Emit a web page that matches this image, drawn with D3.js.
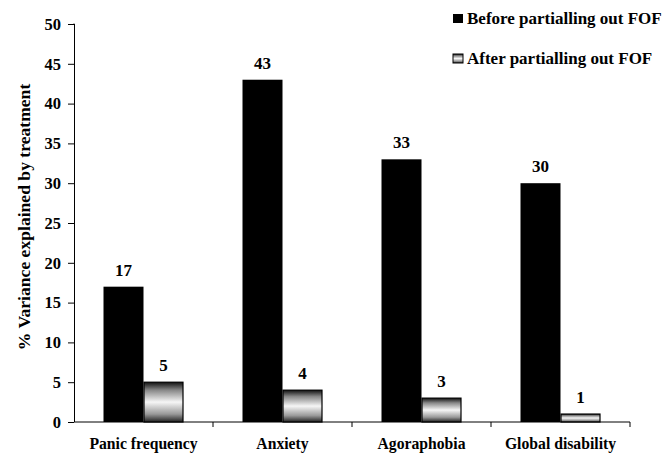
<!DOCTYPE html>
<html><head><meta charset="utf-8">
<script src="https://cdn.jsdelivr.net/npm/d3@7"></script>
<style>body{margin:0;background:#fff}svg{display:block}</style>
</head><body>
<script>
const categories = ["Panic frequency","Anxiety","Agoraphobia","Global disability"];
const beforeValues = [17,43,33,30];
const afterValues = [5,4,3,1];
const seriesNames = ["Before partialling out FOF","After partialling out FOF"];
const yTicks = [0,5,10,15,20,25,30,35,40,45,50];

const FONT="'Liberation Serif', 'Times New Roman', Times, serif";
const W=666,H=458;
const m={left:74,right:36,top:24,bottom:36};
const svg=d3.select("body").append("svg").attr("width",W).attr("height",H)
 .attr("font-family",FONT).attr("font-weight","bold");
const defs=svg.append("defs");
const g=defs.append("linearGradient").attr("id","hatch").attr("x1",0).attr("y1",0).attr("x2",0).attr("y2",1);
[[0,"#111"],[0.2,"#888"],[0.5,"#f6f6f6"],[0.8,"#999"],[1,"#222"]].forEach(([o,c])=>g.append("stop").attr("offset",o).attr("stop-color",c));

const x=d3.scaleBand().domain(categories).range([m.left,W-m.right]);
const y=d3.scaleLinear().domain([0,50]).range([H-m.bottom,m.top]);
const bw=40;

// y axis
const ya=svg.append("g").attr("transform",`translate(${m.left},0)`)
 .call(d3.axisLeft(y).tickValues(yTicks).tickSize(6).tickPadding(7));
ya.attr("font-family",FONT).attr("font-size",16.5).attr("font-weight","bold");
ya.selectAll("text").attr("fill","#000");
ya.select(".domain").attr("d",`M-0.5,${y(50)}H0.5V${y(0)}`).attr("stroke","#000");

// x axis
const xa=svg.append("g").attr("transform",`translate(0,${y(0)})`)
 .call(d3.axisBottom(x).tickSize(0).tickPadding(16));
xa.attr("font-family",FONT).attr("font-size",15.7).attr("font-weight","bold");
xa.selectAll("text").attr("fill","#000");
xa.select(".domain").attr("d",`M${m.left},0H${W-m.right}`).attr("stroke","#000");
// separators
svg.append("g").selectAll("line").data(categories).join("line")
 .attr("x1",c=>x(c)+x.bandwidth()).attr("x2",c=>x(c)+x.bandwidth())
 .attr("y1",y(0)).attr("y2",y(0)+5).attr("stroke","#000");

const cx=c=>x(c)+x.bandwidth()/2;
svg.append("g").selectAll("rect").data(categories).join("rect")
 .attr("x",c=>cx(c)-bw).attr("width",bw)
 .attr("y",(c,i)=>y(beforeValues[i])).attr("height",(c,i)=>y(0)-y(beforeValues[i]))
 .attr("fill","#000");
svg.append("g").selectAll("rect").data(categories).join("rect")
 .attr("x",c=>cx(c)+0.5).attr("width",bw-1)
 .attr("y",(c,i)=>y(afterValues[i])).attr("height",(c,i)=>y(0)-y(afterValues[i]))
 .attr("fill","url(#hatch)").attr("stroke","#000").attr("stroke-width",1.2);

svg.append("g").selectAll("text").data(categories).join("text")
 .attr("x",c=>cx(c)-bw/2).attr("y",(c,i)=>y(beforeValues[i])-11)
 .attr("text-anchor","middle").attr("font-size",17).text((c,i)=>beforeValues[i]);
svg.append("g").selectAll("text").data(categories).join("text")
 .attr("x",c=>cx(c)+bw/2).attr("y",(c,i)=>y(afterValues[i])-11)
 .attr("text-anchor","middle").attr("font-size",17).text((c,i)=>afterValues[i]);

// y label
svg.append("text").attr("transform",`translate(30,217) rotate(-90)`)
 .attr("text-anchor","middle").attr("font-size",17.6).text("% Variance explained by treatment");

// legend
const leg=svg.append("g");
seriesNames.forEach((s,i)=>{
  const yy=24+i*40;
  leg.append("rect").attr("x",453).attr("y",yy-10).attr("width",10).attr("height",9)
   .attr("fill",i===0?"#000":"url(#hatch)").attr("stroke","#000").attr("stroke-width",i===0?0:1);
  leg.append("text").attr("x",467).attr("y",yy).attr("font-size",17).text(s);
});
</script>
</body></html>
